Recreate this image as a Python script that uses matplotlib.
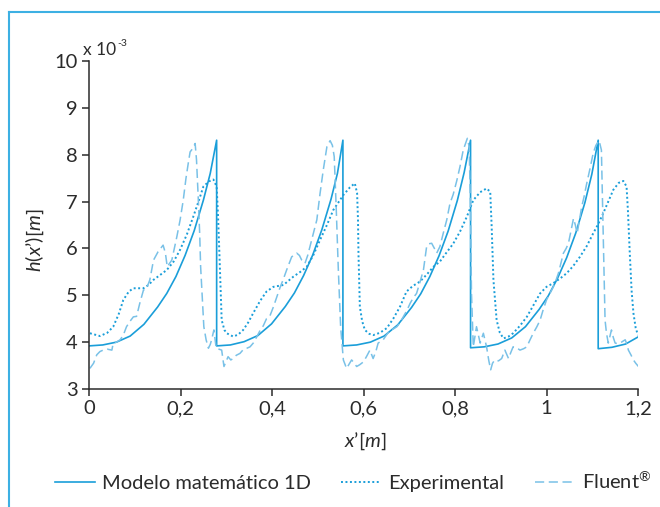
import matplotlib
matplotlib.use("Agg")
import matplotlib.pyplot as plt
from matplotlib.lines import Line2D

plt.rcParams['font.family'] = ['Lato', 'DejaVu Sans']
plt.rcParams['mathtext.fontset'] = 'custom'
plt.rcParams['mathtext.rm'] = 'Lato'
plt.rcParams['mathtext.it'] = 'Lato:italic'

# ---------------- data ----------------
model_x = [0.000, 0.030, 0.060, 0.090, 0.120, 0.150, 0.170, 0.190, 0.210, 0.230, 0.250, 0.265, 0.279,
           0.279, 0.309, 0.339, 0.369, 0.399, 0.429, 0.449, 0.469, 0.489, 0.509, 0.529, 0.543, 0.555,
           0.555, 0.585, 0.615, 0.645, 0.675, 0.705, 0.725, 0.745, 0.765, 0.785, 0.805, 0.820, 0.834,
           0.834, 0.864, 0.894, 0.924, 0.954, 0.984, 1.004, 1.024, 1.044, 1.064, 1.084, 1.099, 1.113,
           1.113, 1.143, 1.173, 1.200]
model_y = [3.92, 3.94, 4.00, 4.13, 4.38, 4.75, 5.04, 5.40, 5.85, 6.38, 7.03, 7.60, 8.31,
           3.92, 3.94, 4.01, 4.14, 4.39, 4.76, 5.05, 5.42, 5.86, 6.40, 7.05, 7.60, 8.31,
           3.92, 3.94, 4.00, 4.13, 4.37, 4.74, 5.03, 5.40, 5.84, 6.37, 7.02, 7.62, 8.31,
           3.88, 3.90, 3.96, 4.09, 4.33, 4.70, 4.99, 5.36, 5.80, 6.33, 6.98, 7.58, 8.31,
           3.86, 3.89, 3.96, 4.11]

exp_x = [0.002, 0.024, 0.040, 0.053, 0.065, 0.075, 0.087, 0.097, 0.119, 0.130, 0.141, 0.155, 0.170,
         0.185, 0.199, 0.214, 0.228, 0.240, 0.250, 0.262, 0.272, 0.279, 0.282, 0.285, 0.290, 0.296,
         0.301, 0.315, 0.326, 0.337, 0.348, 0.359, 0.374, 0.388, 0.403, 0.425, 0.447, 0.462, 0.476,
         0.490, 0.505, 0.520, 0.534, 0.556, 0.570, 0.581, 0.586, 0.588, 0.589, 0.592, 0.597, 0.603,
         0.612, 0.621, 0.636, 0.651, 0.665, 0.680, 0.694, 0.708, 0.723, 0.738, 0.753, 0.767, 0.782,
         0.796, 0.811, 0.826, 0.840, 0.855, 0.869, 0.877, 0.880, 0.884, 0.891, 0.898, 0.906, 0.917,
         0.927, 0.942, 0.957, 0.971, 0.986, 1.000, 1.015, 1.030, 1.044, 1.058, 1.073, 1.088, 1.102,
         1.113, 1.124, 1.135, 1.146, 1.158, 1.168, 1.175, 1.178, 1.182, 1.186, 1.190, 1.195, 1.200]
exp_y = [4.19, 4.13, 4.20, 4.33, 4.60, 4.90, 5.08, 5.15, 5.15, 5.22, 5.33, 5.43, 5.54,
         5.72, 5.97, 6.30, 6.68, 7.02, 7.32, 7.43, 7.47, 7.32, 6.70, 5.90, 4.47, 4.26,
         4.19, 4.12, 4.16, 4.26, 4.42, 4.62, 4.88, 5.08, 5.18, 5.22, 5.40, 5.50, 5.61,
         5.85, 6.18, 6.50, 6.82, 7.14, 7.30, 7.39, 7.18, 6.60, 5.90, 4.76, 4.45, 4.26,
         4.18, 4.15, 4.20, 4.30, 4.50, 4.76, 5.08, 5.20, 5.29, 5.44, 5.61, 5.72, 5.92,
         6.10, 6.36, 6.68, 7.03, 7.20, 7.28, 7.21, 6.50, 5.33, 4.47, 4.20, 4.08, 4.12,
         4.19, 4.35, 4.54, 4.78, 5.04, 5.18, 5.26, 5.36, 5.47, 5.62, 5.82, 6.05, 6.32,
         6.52, 6.75, 7.00, 7.25, 7.40, 7.44, 7.32, 6.80, 5.90, 5.10, 4.62, 4.30, 4.15]

flu_x = [0.002, 0.010, 0.017, 0.024, 0.031, 0.040, 0.050, 0.053, 0.060, 0.068, 0.075, 0.082, 0.090,
         0.097, 0.104, 0.111, 0.119, 0.126, 0.133, 0.141, 0.151, 0.162, 0.167, 0.171, 0.181, 0.192,
         0.199, 0.206, 0.212, 0.217, 0.221, 0.228, 0.232, 0.235, 0.239, 0.242, 0.244, 0.248, 0.251,
         0.256, 0.261, 0.265, 0.268, 0.273, 0.278, 0.284, 0.290, 0.295, 0.300, 0.304, 0.310, 0.315,
         0.322, 0.330, 0.338, 0.345, 0.352, 0.359, 0.366, 0.374, 0.381, 0.388, 0.395, 0.403, 0.410,
         0.417, 0.425, 0.432, 0.443, 0.454, 0.460, 0.465, 0.472, 0.478, 0.483, 0.490, 0.498, 0.505,
         0.512, 0.520, 0.527, 0.532, 0.536, 0.540, 0.545, 0.550, 0.556, 0.563, 0.568, 0.574, 0.580,
         0.585, 0.592, 0.600, 0.607, 0.614, 0.621, 0.627, 0.632, 0.643, 0.650, 0.658, 0.665, 0.673,
         0.680, 0.687, 0.695, 0.702, 0.709, 0.716, 0.724, 0.731, 0.738, 0.743, 0.749, 0.755, 0.760,
         0.767, 0.775, 0.782, 0.789, 0.796, 0.804, 0.811, 0.818, 0.827, 0.831, 0.834, 0.836, 0.840,
         0.844, 0.847, 0.851, 0.855, 0.862, 0.869, 0.874, 0.878, 0.882, 0.887, 0.895, 0.902, 0.909,
         0.917, 0.922, 0.927, 0.935, 0.942, 0.950, 0.957, 0.964, 0.971, 0.979, 0.986, 0.993, 1.000,
         1.008, 1.015, 1.020, 1.026, 1.032, 1.037, 1.043, 1.048, 1.054, 1.059, 1.063, 1.067, 1.072,
         1.077, 1.082, 1.088, 1.095, 1.102, 1.108, 1.115, 1.120, 1.122, 1.124, 1.126, 1.128, 1.131,
         1.135, 1.138, 1.142, 1.146, 1.150, 1.155, 1.161, 1.167, 1.172, 1.176, 1.179, 1.185, 1.190,
         1.195, 1.201]
flu_y = [3.44, 3.55, 3.73, 3.80, 3.83, 3.85, 3.83, 3.98, 4.00, 4.05, 4.15, 4.33, 4.45,
         4.54, 4.55, 4.83, 5.11, 5.15, 5.33, 5.75, 5.93, 6.07, 5.90, 5.61, 5.75, 6.25,
         6.60, 7.03, 7.50, 7.82, 8.06, 8.15, 8.24, 7.89, 7.03, 6.30, 5.61, 4.90, 4.33,
         4.05, 3.87, 3.95, 4.05, 4.26, 3.87, 3.85, 3.83, 3.48, 3.60, 3.69, 3.62, 3.65,
         3.72, 3.76, 3.85, 3.87, 3.90, 3.98, 4.10, 4.25, 4.35, 4.50, 4.55, 4.75, 4.95,
         5.15, 5.35, 5.54, 5.82, 5.90, 5.85, 5.75, 5.68, 5.85, 6.04, 6.30, 6.61, 7.17,
         7.67, 8.17, 8.30, 8.20, 7.96, 6.96, 5.54, 4.33, 3.62, 3.44, 3.52, 3.62, 3.55,
         3.48, 3.52, 3.58, 3.70, 3.83, 3.65, 3.80, 3.98, 4.05, 4.15, 4.26, 4.28, 4.33,
         4.42, 4.54, 4.68, 4.83, 4.95, 5.04, 5.30, 5.54, 6.04, 6.10, 6.11, 6.00, 5.90,
         6.04, 6.35, 6.61, 6.96, 7.15, 7.45, 7.75, 8.10, 8.35, 8.17, 6.80, 5.04, 3.90,
         4.15, 4.33, 4.15, 3.98, 4.19, 3.90, 3.60, 3.41, 3.55, 3.62, 3.60, 3.65, 3.83,
         3.65, 3.78, 3.90, 3.88, 3.83, 3.86, 3.90, 4.05, 4.19, 4.33, 4.47, 4.70, 4.90,
         5.05, 5.18, 5.30, 5.47, 5.70, 5.90, 6.00, 6.11, 6.40, 6.64, 6.50, 6.32, 6.60,
         6.89, 7.10, 7.39, 7.70, 8.03, 8.20, 8.30, 8.10, 7.20, 6.25, 5.30, 4.47, 4.20,
         3.98, 4.10, 4.26, 4.10, 3.98, 3.97, 3.98, 4.02, 4.05, 3.95, 3.83, 3.72, 3.62,
         3.55, 3.48]

x_ticks = [0, 0.2, 0.4, 0.6, 0.8, 1.0, 1.2]
x_ticklabels = ["0", "0,2", "0,4", "0,6", "0,8", "1", "1,2"]
y_ticks = [3, 4, 5, 6, 7, 8, 9, 10]
labels = ["Modelo matemático 1D", "Experimental", r"Fluent$^{\mathrm{®}}$"]

# ---------------- style ----------------
C_MODEL = "#1a9ed9"
C_EXP = "#1a9ed9"
C_FLU = "#79c1e7"
C_TXT = "#2b2b2b"
C_FRAME = "#3db0e3"
FS = 14.5

fig = plt.figure(figsize=(6.6, 5.07), dpi=100)
ax = fig.add_axes([89/660, 1-389/507, 549/660, 328/507])

ax.plot(model_x, model_y, color=C_MODEL, lw=1.2, label=labels[0])
ax.plot(exp_x, exp_y, color=C_EXP, lw=1.4, linestyle=(0, (1, 1.3)), label=labels[1])
ax.plot(flu_x, flu_y, color=C_FLU, lw=1.1, linestyle=(0, (6, 3)), label=labels[2])

ax.set_xlim(0, 1.2)
ax.set_ylim(3, 10)
ax.set_xticks(x_ticks)
ax.set_xticklabels(x_ticklabels)
ax.set_yticks(y_ticks)
for s in ["top", "right"]:
    ax.spines[s].set_visible(False)
for s in ["left", "bottom"]:
    ax.spines[s].set_color(C_TXT)
    ax.spines[s].set_linewidth(1.1)
ax.tick_params(direction="out", length=5, width=1.1, color=C_TXT, labelcolor=C_TXT,
               labelsize=FS, pad=3)

fig.text(365/660, 1-441/507, r"$\mathit{x}$’[$\mathit{m}$]", ha="center", va="center",
         fontsize=FS, color=C_TXT)
fig.text(35/660, 1-240/507, r"$\mathit{h}$($\mathit{x}$’)[$\mathit{m}$]", ha="center",
         va="center", fontsize=FS, color=C_TXT, rotation=90)
fig.text(83/660, 1-55/507, "x 10", ha="left", va="baseline", fontsize=12.5,
         color=C_TXT)
fig.text(117/660, 1-46/507, "-3", ha="left", va="baseline", fontsize=7.5,
         color=C_TXT)

leg = fig.legend(loc="center", bbox_to_anchor=(0.5 + 23/660, 1-481/507), ncol=3,
                 frameon=False, handlelength=2.0, handletextpad=0.35, columnspacing=1.5,
                 prop={"size": FS})
for t in leg.get_texts():
    t.set_color(C_TXT)

# frame
fig.add_artist(Line2D([9/660, 9/660], [0, 1-12/507], color=C_FRAME, lw=1.5,
                      transform=fig.transFigure))
fig.add_artist(Line2D([9/660, 1], [1-12/507, 1-12/507], color=C_FRAME, lw=1.5,
                      transform=fig.transFigure))

fig.savefig("out.png", dpi=100)
